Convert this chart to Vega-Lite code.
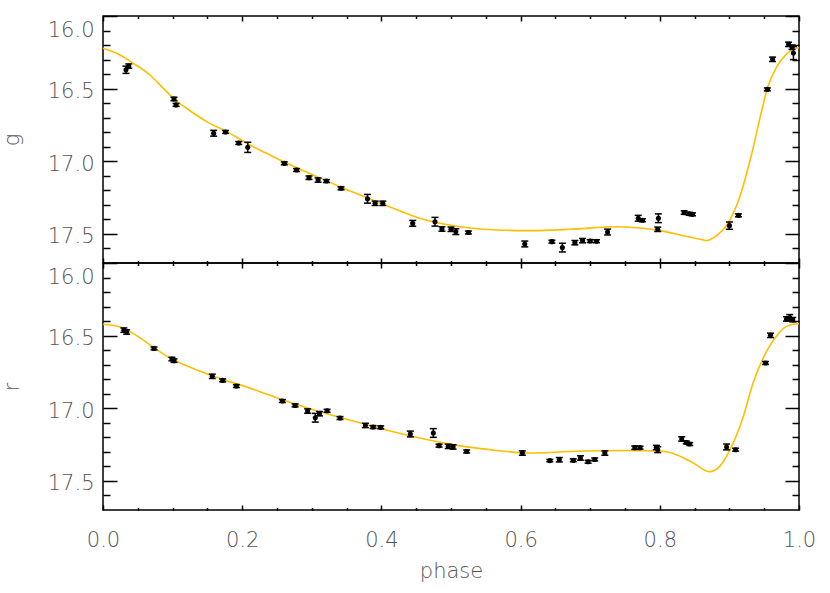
{
  "$schema": "https://vega.github.io/schema/vega-lite/v6.json",
  "background": "white",
  "padding": {"left": 0, "top": 14, "right": 0, "bottom": 0},
  "spacing": 0,
  "bounds": "flush",
  "config": {
    "view": {"stroke": "black", "strokeWidth": 1.5},
    "axis": {
      "domain": false, "grid": false, "tickColor": "black", "tickWidth": 1.5,
      "labelFont": "DejaVu Sans", "labelFontSize": 21, "labelFontWeight": 200, "labelColor": "#555555",
      "titleFont": "DejaVu Sans", "titleFontSize": 21, "titleFontWeight": 200, "titleColor": "#555555"
    }
  },
  "datasets": {
    "gpts": [
      {"phase":0.033,"mag":16.37,"lo":16.345,"hi":16.395},
      {"phase":0.037,"mag":16.345,"lo":16.33,"hi":16.36},
      {"phase":0.102,"mag":16.571,"lo":16.559,"hi":16.583},
      {"phase":0.105,"mag":16.612,"lo":16.602,"hi":16.622},
      {"phase":0.159,"mag":16.807,"lo":16.787,"hi":16.827},
      {"phase":0.176,"mag":16.798,"lo":16.788,"hi":16.808},
      {"phase":0.195,"mag":16.874,"lo":16.864,"hi":16.884},
      {"phase":0.208,"mag":16.904,"lo":16.869,"hi":16.939},
      {"phase":0.2605,"mag":17.014,"lo":17.004,"hi":17.024},
      {"phase":0.278,"mag":17.06,"lo":17.05,"hi":17.07},
      {"phase":0.296,"mag":17.113,"lo":17.101,"hi":17.125},
      {"phase":0.309,"mag":17.129,"lo":17.114,"hi":17.144},
      {"phase":0.321,"mag":17.136,"lo":17.126,"hi":17.146},
      {"phase":0.342,"mag":17.186,"lo":17.176,"hi":17.196},
      {"phase":0.38,"mag":17.258,"lo":17.228,"hi":17.288},
      {"phase":0.391,"mag":17.289,"lo":17.274,"hi":17.304},
      {"phase":0.402,"mag":17.289,"lo":17.274,"hi":17.304},
      {"phase":0.445,"mag":17.427,"lo":17.407,"hi":17.447},
      {"phase":0.477,"mag":17.416,"lo":17.386,"hi":17.446},
      {"phase":0.487,"mag":17.466,"lo":17.451,"hi":17.481},
      {"phase":0.5,"mag":17.468,"lo":17.453,"hi":17.483},
      {"phase":0.507,"mag":17.484,"lo":17.464,"hi":17.504},
      {"phase":0.525,"mag":17.49,"lo":17.48,"hi":17.5},
      {"phase":0.606,"mag":17.569,"lo":17.549,"hi":17.589},
      {"phase":0.645,"mag":17.553,"lo":17.543,"hi":17.563},
      {"phase":0.66,"mag":17.594,"lo":17.564,"hi":17.624},
      {"phase":0.678,"mag":17.56,"lo":17.545,"hi":17.575},
      {"phase":0.689,"mag":17.546,"lo":17.531,"hi":17.561},
      {"phase":0.7,"mag":17.549,"lo":17.539,"hi":17.559},
      {"phase":0.709,"mag":17.55,"lo":17.54,"hi":17.56},
      {"phase":0.725,"mag":17.487,"lo":17.467,"hi":17.507},
      {"phase":0.769,"mag":17.392,"lo":17.372,"hi":17.412},
      {"phase":0.775,"mag":17.406,"lo":17.396,"hi":17.416},
      {"phase":0.798,"mag":17.392,"lo":17.362,"hi":17.422},
      {"phase":0.797,"mag":17.468,"lo":17.453,"hi":17.483},
      {"phase":0.835,"mag":17.353,"lo":17.341,"hi":17.365},
      {"phase":0.842,"mag":17.361,"lo":17.351,"hi":17.371},
      {"phase":0.847,"mag":17.365,"lo":17.355,"hi":17.375},
      {"phase":0.9,"mag":17.443,"lo":17.418,"hi":17.468},
      {"phase":0.913,"mag":17.372,"lo":17.362,"hi":17.382},
      {"phase":0.9545,"mag":16.505,"lo":16.495,"hi":16.515},
      {"phase":0.962,"mag":16.298,"lo":16.283,"hi":16.313},
      {"phase":0.985,"mag":16.195,"lo":16.18,"hi":16.21},
      {"phase":0.99,"mag":16.215,"lo":16.2,"hi":16.23},
      {"phase":0.992,"mag":16.255,"lo":16.21,"hi":16.3}
    ],
    "gcurve": [
      {"phase":0,"mag":16.222},{"phase":0.0197,"mag":16.257},{"phase":0.0436,"mag":16.326},
      {"phase":0.0675,"mag":16.406},{"phase":0.0867,"mag":16.498},{"phase":0.101,"mag":16.566},
      {"phase":0.12,"mag":16.635},{"phase":0.149,"mag":16.727},{"phase":0.178,"mag":16.796},
      {"phase":0.2065,"mag":16.876},{"phase":0.235,"mag":16.945},{"phase":0.264,"mag":17.014},
      {"phase":0.302,"mag":17.094},{"phase":0.3405,"mag":17.175},{"phase":0.379,"mag":17.25},
      {"phase":0.417,"mag":17.323},{"phase":0.455,"mag":17.392},{"phase":0.518,"mag":17.454},
      {"phase":0.566,"mag":17.473},{"phase":0.613,"mag":17.477},{"phase":0.671,"mag":17.468},
      {"phase":0.738,"mag":17.45},{"phase":0.776,"mag":17.461},{"phase":0.8,"mag":17.477},
      {"phase":0.834,"mag":17.512},{"phase":0.858,"mag":17.537},{"phase":0.867,"mag":17.546},
      {"phase":0.882,"mag":17.51},{"phase":0.896,"mag":17.44},{"phase":0.915,"mag":17.244},
      {"phase":0.932,"mag":16.95},{"phase":0.947,"mag":16.64},{"phase":0.955,"mag":16.49},
      {"phase":0.968,"mag":16.35},{"phase":0.982,"mag":16.262},{"phase":0.997,"mag":16.22},
      {"phase":1.0,"mag":16.218}
    ],
    "rpts": [
      {"phase":0.03,"mag":16.462,"lo":16.447,"hi":16.477},
      {"phase":0.034,"mag":16.475,"lo":16.46,"hi":16.49},
      {"phase":0.0733,"mag":16.588,"lo":16.578,"hi":16.598},
      {"phase":0.099,"mag":16.661,"lo":16.649,"hi":16.673},
      {"phase":0.102,"mag":16.672,"lo":16.66,"hi":16.684},
      {"phase":0.157,"mag":16.78,"lo":16.765,"hi":16.795},
      {"phase":0.172,"mag":16.808,"lo":16.798,"hi":16.818},
      {"phase":0.1916,"mag":16.847,"lo":16.837,"hi":16.857},
      {"phase":0.2577,"mag":16.95,"lo":16.94,"hi":16.96},
      {"phase":0.276,"mag":16.98,"lo":16.97,"hi":16.99},
      {"phase":0.294,"mag":17.019,"lo":17.004,"hi":17.034},
      {"phase":0.305,"mag":17.065,"lo":17.035,"hi":17.095},
      {"phase":0.311,"mag":17.037,"lo":17.022,"hi":17.052},
      {"phase":0.322,"mag":17.017,"lo":17.007,"hi":17.027},
      {"phase":0.3405,"mag":17.067,"lo":17.057,"hi":17.077},
      {"phase":0.377,"mag":17.118,"lo":17.103,"hi":17.133},
      {"phase":0.388,"mag":17.129,"lo":17.119,"hi":17.139},
      {"phase":0.399,"mag":17.131,"lo":17.121,"hi":17.141},
      {"phase":0.4416,"mag":17.177,"lo":17.157,"hi":17.197},
      {"phase":0.4746,"mag":17.17,"lo":17.14,"hi":17.2},
      {"phase":0.4828,"mag":17.257,"lo":17.247,"hi":17.267},
      {"phase":0.496,"mag":17.262,"lo":17.247,"hi":17.277},
      {"phase":0.503,"mag":17.266,"lo":17.251,"hi":17.281},
      {"phase":0.5225,"mag":17.297,"lo":17.287,"hi":17.307},
      {"phase":0.6025,"mag":17.308,"lo":17.293,"hi":17.323},
      {"phase":0.642,"mag":17.36,"lo":17.352,"hi":17.368},
      {"phase":0.6556,"mag":17.354,"lo":17.339,"hi":17.369},
      {"phase":0.6757,"mag":17.358,"lo":17.348,"hi":17.368},
      {"phase":0.686,"mag":17.342,"lo":17.327,"hi":17.357},
      {"phase":0.697,"mag":17.368,"lo":17.358,"hi":17.378},
      {"phase":0.7065,"mag":17.352,"lo":17.342,"hi":17.362},
      {"phase":0.721,"mag":17.308,"lo":17.293,"hi":17.323},
      {"phase":0.764,"mag":17.271,"lo":17.259,"hi":17.283},
      {"phase":0.7716,"mag":17.271,"lo":17.261,"hi":17.281},
      {"phase":0.795,"mag":17.27,"lo":17.255,"hi":17.285},
      {"phase":0.797,"mag":17.285,"lo":17.265,"hi":17.305},
      {"phase":0.8315,"mag":17.211,"lo":17.196,"hi":17.226},
      {"phase":0.838,"mag":17.235,"lo":17.225,"hi":17.245},
      {"phase":0.843,"mag":17.246,"lo":17.236,"hi":17.256},
      {"phase":0.896,"mag":17.266,"lo":17.246,"hi":17.286},
      {"phase":0.909,"mag":17.285,"lo":17.275,"hi":17.295},
      {"phase":0.952,"mag":16.688,"lo":16.678,"hi":16.698},
      {"phase":0.959,"mag":16.498,"lo":16.483,"hi":16.513},
      {"phase":0.982,"mag":16.385,"lo":16.37,"hi":16.4},
      {"phase":0.9867,"mag":16.375,"lo":16.355,"hi":16.395},
      {"phase":0.991,"mag":16.39,"lo":16.375,"hi":16.405}
    ],
    "rcurve": [
      {"phase":0,"mag":16.422},{"phase":0.0244,"mag":16.44},{"phase":0.0484,"mag":16.5},
      {"phase":0.0723,"mag":16.58},{"phase":0.0963,"mag":16.654},{"phase":0.12,"mag":16.707},
      {"phase":0.149,"mag":16.762},{"phase":0.178,"mag":16.81},{"phase":0.2065,"mag":16.853},
      {"phase":0.235,"mag":16.902},{"phase":0.264,"mag":16.952},{"phase":0.302,"mag":17.01},
      {"phase":0.3405,"mag":17.063},{"phase":0.379,"mag":17.113},{"phase":0.417,"mag":17.161},
      {"phase":0.455,"mag":17.204},{"phase":0.518,"mag":17.262},{"phase":0.566,"mag":17.29},
      {"phase":0.613,"mag":17.308},{"phase":0.671,"mag":17.297},{"phase":0.752,"mag":17.29},
      {"phase":0.8,"mag":17.294},{"phase":0.824,"mag":17.319},{"phase":0.848,"mag":17.376},
      {"phase":0.872,"mag":17.436},{"phase":0.886,"mag":17.4},{"phase":0.901,"mag":17.285},
      {"phase":0.92,"mag":17.056},{"phase":0.934,"mag":16.826},{"phase":0.949,"mag":16.65},
      {"phase":0.968,"mag":16.5},{"phase":0.982,"mag":16.436},{"phase":0.997,"mag":16.418},
      {"phase":1.0,"mag":16.418}
    ]
  },
  "vconcat": [
    {
      "width": 696, "height": 247,
      "resolve": {"axis": {"x": "independent", "y": "independent"}},
      "layer": [
        {
          "data": {"name": "gcurve"},
          "mark": {"type": "line", "color": "#FFBE00", "strokeWidth": 1.6, "interpolate": "monotone"},
          "encoding": {
            "x": {"field": "phase", "type": "quantitative", "scale": {"domain": [0, 1], "nice": false, "zero": false},
                  "axis": {"orient": "bottom", "values": [0, 0.2, 0.4, 0.6, 0.8, 1], "tickSize": -5, "labels": false, "title": null}},
            "y": {"field": "mag", "type": "quantitative", "scale": {"domain": [16, 17.7], "reverse": true, "nice": false, "zero": false},
                  "axis": {"orient": "left", "values": [16, 16.5, 17, 17.5], "format": ".1f", "tickSize": -14, "labelPadding": 23, "labelFlush": true, "labelOffset": 3, "title": "g", "titlePadding": 25}}
          }
        },
        {
          "data": {"name": "gpts"},
          "mark": {"type": "rule", "color": "black", "strokeWidth": 1.5},
          "encoding": {
            "x": {"field": "phase", "type": "quantitative", "scale": {"domain": [0, 1], "nice": false, "zero": false},
                  "axis": {"orient": "bottom", "values": [0.05, 0.1, 0.15, 0.25, 0.3, 0.35, 0.45, 0.5, 0.55, 0.65, 0.7, 0.75, 0.85, 0.9, 0.95], "tickSize": -2.5, "labels": false, "title": null}},
            "y": {"field": "lo", "type": "quantitative", "scale": {"domain": [16, 17.7], "reverse": true, "nice": false, "zero": false},
                  "axis": {"orient": "left", "values": [16.1, 16.2, 16.3, 16.4, 16.6, 16.7, 16.8, 16.9, 17.1, 17.2, 17.3, 17.4, 17.6], "tickSize": -7, "labels": false, "title": null}},
            "y2": {"field": "hi"}
          }
        },
        {
          "data": {"name": "gpts"},
          "mark": {"type": "tick", "orient": "horizontal", "size": 7, "thickness": 1.5, "color": "black", "opacity": 1},
          "encoding": {
            "x": {"field": "phase", "type": "quantitative", "scale": {"domain": [0, 1], "nice": false, "zero": false},
                  "axis": {"orient": "top", "values": [0, 0.2, 0.4, 0.6, 0.8, 1], "tickSize": -5, "labels": false, "title": null}},
            "y": {"field": "lo", "type": "quantitative", "scale": {"domain": [16, 17.7], "reverse": true, "nice": false, "zero": false},
                  "axis": {"orient": "right", "values": [16, 16.5, 17, 17.5], "tickSize": -14, "labels": false, "title": null}}
          }
        },
        {
          "data": {"name": "gpts"},
          "mark": {"type": "tick", "orient": "horizontal", "size": 7, "thickness": 1.5, "color": "black", "opacity": 1},
          "encoding": {
            "x": {"field": "phase", "type": "quantitative", "scale": {"domain": [0, 1], "nice": false, "zero": false},
                  "axis": {"orient": "top", "values": [0.05, 0.1, 0.15, 0.25, 0.3, 0.35, 0.45, 0.5, 0.55, 0.65, 0.7, 0.75, 0.85, 0.9, 0.95], "tickSize": -2.5, "labels": false, "title": null}},
            "y": {"field": "hi", "type": "quantitative", "scale": {"domain": [16, 17.7], "reverse": true, "nice": false, "zero": false},
                  "axis": {"orient": "right", "values": [16.1, 16.2, 16.3, 16.4, 16.6, 16.7, 16.8, 16.9, 17.1, 17.2, 17.3, 17.4, 17.6], "tickSize": -7, "labels": false, "title": null}}
          }
        },
        {
          "data": {"name": "gpts"},
          "mark": {"type": "circle", "size": 26, "color": "black", "opacity": 1},
          "encoding": {
            "x": {"field": "phase", "type": "quantitative", "scale": {"domain": [0, 1], "nice": false, "zero": false}, "axis": null},
            "y": {"field": "mag", "type": "quantitative", "scale": {"domain": [16, 17.7], "reverse": true, "nice": false, "zero": false}, "axis": null}
          }
        }
      ]
    },
    {
      "width": 696, "height": 247,
      "resolve": {"axis": {"x": "independent", "y": "independent"}},
      "layer": [
        {
          "data": {"name": "rcurve"},
          "mark": {"type": "line", "color": "#FFBE00", "strokeWidth": 1.6, "interpolate": "monotone"},
          "encoding": {
            "x": {"field": "phase", "type": "quantitative", "scale": {"domain": [0, 1], "nice": false, "zero": false},
                  "axis": {"orient": "bottom", "values": [0, 0.2, 0.4, 0.6, 0.8, 1], "format": ".1f", "tickSize": -5, "labelPadding": 24, "labelFlush": false, "title": "phase", "titlePadding": 10}},
            "y": {"field": "mag", "type": "quantitative", "scale": {"domain": [16, 17.7], "reverse": true, "nice": false, "zero": false},
                  "axis": {"orient": "left", "values": [16, 16.5, 17, 17.5], "format": ".1f", "tickSize": -14, "labelPadding": 23, "labelFlush": true, "labelOffset": 3, "title": "r", "titlePadding": 25}}
          }
        },
        {
          "data": {"name": "rpts"},
          "mark": {"type": "rule", "color": "black", "strokeWidth": 1.5},
          "encoding": {
            "x": {"field": "phase", "type": "quantitative", "scale": {"domain": [0, 1], "nice": false, "zero": false},
                  "axis": {"orient": "bottom", "values": [0.05, 0.1, 0.15, 0.25, 0.3, 0.35, 0.45, 0.5, 0.55, 0.65, 0.7, 0.75, 0.85, 0.9, 0.95], "tickSize": -2.5, "labels": false, "title": null}},
            "y": {"field": "lo", "type": "quantitative", "scale": {"domain": [16, 17.7], "reverse": true, "nice": false, "zero": false},
                  "axis": {"orient": "left", "values": [16.1, 16.2, 16.3, 16.4, 16.6, 16.7, 16.8, 16.9, 17.1, 17.2, 17.3, 17.4, 17.6], "tickSize": -7, "labels": false, "title": null}},
            "y2": {"field": "hi"}
          }
        },
        {
          "data": {"name": "rpts"},
          "mark": {"type": "tick", "orient": "horizontal", "size": 7, "thickness": 1.5, "color": "black", "opacity": 1},
          "encoding": {
            "x": {"field": "phase", "type": "quantitative", "scale": {"domain": [0, 1], "nice": false, "zero": false},
                  "axis": {"orient": "top", "values": [0, 0.2, 0.4, 0.6, 0.8, 1], "tickSize": -5, "labels": false, "title": null}},
            "y": {"field": "lo", "type": "quantitative", "scale": {"domain": [16, 17.7], "reverse": true, "nice": false, "zero": false},
                  "axis": {"orient": "right", "values": [16, 16.5, 17, 17.5], "tickSize": -14, "labels": false, "title": null}}
          }
        },
        {
          "data": {"name": "rpts"},
          "mark": {"type": "tick", "orient": "horizontal", "size": 7, "thickness": 1.5, "color": "black", "opacity": 1},
          "encoding": {
            "x": {"field": "phase", "type": "quantitative", "scale": {"domain": [0, 1], "nice": false, "zero": false},
                  "axis": {"orient": "top", "values": [0.05, 0.1, 0.15, 0.25, 0.3, 0.35, 0.45, 0.5, 0.55, 0.65, 0.7, 0.75, 0.85, 0.9, 0.95], "tickSize": -2.5, "labels": false, "title": null}},
            "y": {"field": "hi", "type": "quantitative", "scale": {"domain": [16, 17.7], "reverse": true, "nice": false, "zero": false},
                  "axis": {"orient": "right", "values": [16.1, 16.2, 16.3, 16.4, 16.6, 16.7, 16.8, 16.9, 17.1, 17.2, 17.3, 17.4, 17.6], "tickSize": -7, "labels": false, "title": null}}
          }
        },
        {
          "data": {"name": "rpts"},
          "mark": {"type": "circle", "size": 26, "color": "black", "opacity": 1},
          "encoding": {
            "x": {"field": "phase", "type": "quantitative", "scale": {"domain": [0, 1], "nice": false, "zero": false}, "axis": null},
            "y": {"field": "mag", "type": "quantitative", "scale": {"domain": [16, 17.7], "reverse": true, "nice": false, "zero": false}, "axis": null}
          }
        }
      ]
    }
  ]
}
